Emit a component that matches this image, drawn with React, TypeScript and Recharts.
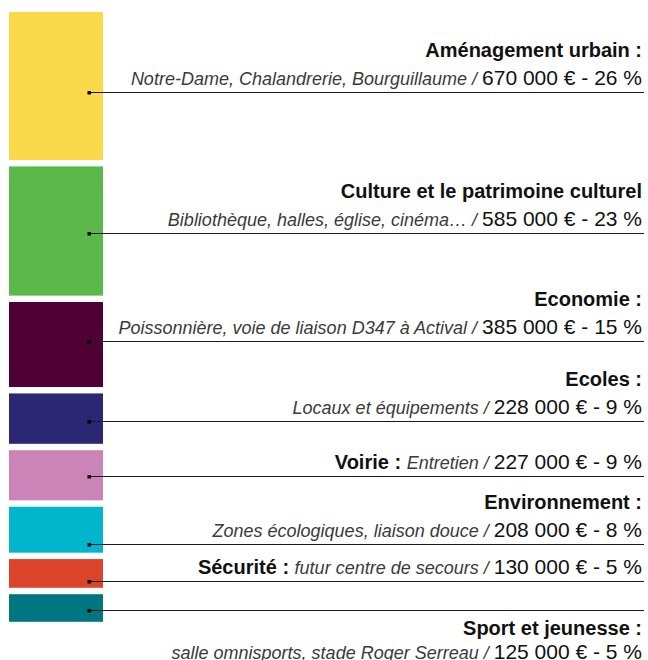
import React from 'react';
import { BarChart, Bar, XAxis, YAxis } from 'recharts';

// ---- data ----
const CATEGORIES = [
  'Aménagement urbain :',
  'Culture et le patrimoine culturel',
  'Economie :',
  'Ecoles :',
  'Voirie :',
  'Environnement :',
  'Sécurité :',
  'Sport et jeunesse :',
];
const DETAILS = [
  'Notre-Dame, Chalandrerie, Bourguillaume',
  'Bibliothèque, halles, église, cinéma…',
  'Poissonnière, voie de liaison D347 à Actival',
  'Locaux et équipements',
  'Entretien',
  'Zones écologiques, liaison douce',
  'futur centre de secours',
  'salle omnisports, stade Roger Serreau',
];
const AMOUNTS = [670000, 585000, 385000, 228000, 227000, 208000, 130000, 125000];
const PERCENTS = [26, 23, 15, 9, 9, 8, 5, 5];

// ---- styles ----
const COLORS = ['#FCD84B', '#5BB84A', '#4F0034', '#2C2774', '#CB84B8', '#00B5CC', '#D9442B', '#007780'];
const LEADER_AT = [0.54, 0.513, 0.46, 0.55, 0.51, 0.82, 0.78, 0.59];
const LABEL_MODE = ['above', 'above', 'above', 'above', 'inline', 'above', 'inline', 'below'];
const GAP = 6.4;
const FONT = '"Liberation Sans", Arial, Helvetica, sans-serif';
const TEXT_RIGHT = 642;
const LINE_RIGHT = 644;

const KEYS = CATEGORIES.map((_, i) => `s${i}`);
const TOTAL = AMOUNTS.reduce((a, b) => a + b, 0);
const row: Record<string, number | string> = { name: 'budget' };
KEYS.forEach((k, i) => {
  row[k] = AMOUNTS[i];
});
const DATA = [row];

const fmt = (n: number) => String(n).replace(/\B(?=(\d{3})+(?!\d))/g, ' ');

function Segment(props: any) {
  const { x, y, width, height, si } = props;
  const top = Math.min(y, y + height) + si * GAP;
  const h = Math.abs(height);
  const ly = Math.round(top + h * LEADER_AT[si]) + 0.5;
  const dotX = x + width - 14;
  const mode = LABEL_MODE[si];
  const name = CATEGORIES[si];
  const detail = DETAILS[si];
  const value = `${fmt(AMOUNTS[si])} € - ${PERCENTS[si]} %`;

  const titleStyle = { fontWeight: 700, fontSize: 20, fill: '#111' };
  const italStyle = { fontStyle: 'italic', fontSize: 18, fill: '#3a3a3a' };
  const valStyle = { fontSize: 21, fill: '#111' };

  let texts: React.ReactNode = null;
  if (mode === 'inline') {
    texts = (
      <text x={TEXT_RIGHT} y={ly - 8} textAnchor="end" fontFamily={FONT} style={{ whiteSpace: 'pre' }}>
        <tspan {...titleStyle}>{name + ' '}</tspan>
        <tspan {...italStyle}>{detail + ' / '}</tspan>
        <tspan {...valStyle}>{value}</tspan>
      </text>
    );
  } else {
    const tY = mode === 'below' ? ly + 24 : ly - 36;
    const sY = mode === 'below' ? ly + 48 : ly - 8;
    texts = (
      <g>
        <text x={TEXT_RIGHT} y={tY} textAnchor="end" fontFamily={FONT} style={{ whiteSpace: 'pre' }}>
          <tspan {...titleStyle}>{name}</tspan>
        </text>
        <text x={TEXT_RIGHT} y={sY} textAnchor="end" fontFamily={FONT} style={{ whiteSpace: 'pre' }}>
          <tspan {...italStyle}>{detail + ' / '}</tspan>
          <tspan {...valStyle}>{value}</tspan>
        </text>
      </g>
    );
  }

  return (
    <g>
      <rect x={x} y={top} width={width} height={h} fill={COLORS[si]} />
      <line x1={dotX} y1={ly} x2={LINE_RIGHT} y2={ly} stroke="#1a1a1a" strokeWidth={1.2} />
      <rect x={dotX - 1.5} y={ly - 1.5} width={3.5} height={3.5} fill="#000" />
      {texts}
    </g>
  );
}

export default function App() {
  return (
    <div style={{ position: 'absolute', left: 0, top: 0, width: 648, height: 660, background: '#fff' }}>
      <BarChart
        width={648}
        height={660}
        data={DATA}
        margin={{ top: 12, right: 545, bottom: 83, left: 9 }}
        barCategoryGap={0}
        barGap={0}
      >
        <XAxis dataKey="name" hide />
        <YAxis type="number" domain={[0, TOTAL]} reversed hide />
        {KEYS.map((k, i) => (
          <Bar
            key={k}
            dataKey={k}
            stackId="budget"
            fill={COLORS[i]}
            isAnimationActive={false}
            shape={(p: any) => <Segment {...p} si={i} />}
          />
        ))}
      </BarChart>
    </div>
  );
}
